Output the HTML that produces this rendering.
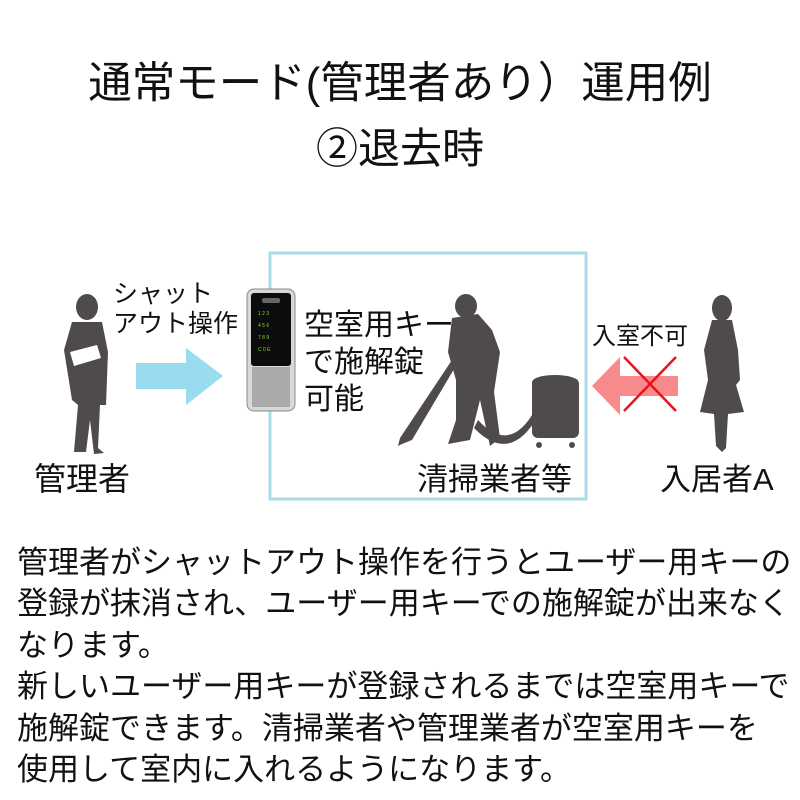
<!DOCTYPE html>
<html><head><meta charset="utf-8"><style>
body{margin:0;background:#fff;}
#c{position:relative;width:800px;height:800px;overflow:hidden;font-family:"Liberation Sans","Noto Sans CJK JP",sans-serif;color:#111;}
.t{position:absolute;white-space:nowrap;}
</style></head><body><div id="c">
<div class="t" style="left:0;width:800px;text-align:center;top:59px;font-size:43.5px;line-height:50px;">通常モード(管理者あり）運用例</div>
<div class="t" style="left:0;width:800px;text-align:center;top:124px;font-size:42px;line-height:50px;">②退去時</div>

<svg style="position:absolute;left:0;top:0" width="800" height="520">
<rect x="270" y="253" width="316" height="246" fill="none" stroke="#a8dcec" stroke-width="3"/>
<polygon points="136,363 186,363 186,348 223,376 186,405 186,389 136,389" fill="#99dcef"/>
<polygon points="678,376 620,376 620,357 592,386 620,415 620,396 678,396" fill="#f98a8c"/>
<line x1="624" y1="357" x2="676" y2="411" stroke="#e8141c" stroke-width="2.5"/>
<line x1="676" y1="357" x2="624" y2="411" stroke="#e8141c" stroke-width="2.5"/>
<g fill="#4f4b4c">
<ellipse cx="87" cy="307" rx="11" ry="13"/>
<path d="M72 322 L102 322 L108 352 L106 405 L100 405 L98 448 L104 453 L94 454 L90 420 L86 452 L74 452 L78 405 L72 400 L64 350 Z"/>
</g>
<polygon points="70,352 97,345 101,358 74,366" fill="#fff"/>
<rect x="247" y="289" width="48" height="122" rx="7" fill="#d8d8d8" stroke="#888" stroke-width="1"/>
<rect x="251" y="293" width="40" height="73" rx="3" fill="#0c0c0c"/>
<rect x="262" y="298" width="18" height="5" rx="2" fill="#666"/>
<rect x="252" y="367" width="38" height="40" fill="#aaa"/>
<g fill="#7fdc3a" font-size="5" font-family="Liberation Sans"><text x="258" y="315">1 2 3</text><text x="258" y="327">4 5 6</text><text x="258" y="339">7 8 9</text><text x="258" y="351">C 0 E</text></g>
<g fill="#4f4b4c">
<ellipse cx="466" cy="306" rx="11" ry="12"/>
<path d="M452 318 L478 314 L492 330 L500 352 L494 392 L500 438 L490 446 L480 400 L470 440 L448 444 L456 420 L456 380 L448 352 Z"/>
<path d="M452 360 L457 364 L412 440 L402 444 L398 446 L400 438 Z"/>
<rect x="532" y="378" width="47" height="60" rx="6"/>
<ellipse cx="555" cy="382" rx="23" ry="7"/>
<path d="M478 420 Q510 455 535 410 L538 416 Q510 465 474 428 Z"/>
<circle cx="539" cy="445" r="3"/><circle cx="572" cy="445" r="3"/>
</g>
<g fill="#4f4b4c">
<ellipse cx="722" cy="308" rx="10" ry="13"/>
<path d="M712 320 L732 320 L738 350 L740 380 L736 385 L744 412 L728 414 L726 448 L722 452 L716 446 L714 414 L700 412 L708 380 L704 350 Z"/>
</g>
</svg>

<div class="t" style="left:113px;top:279px;font-size:25px;line-height:30px;">シャット<br>アウト操作</div>
<div class="t" style="left:304px;top:307px;font-size:30px;line-height:37px;">空室用キー<br>で施解錠<br>可能</div>
<div class="t" style="left:592px;top:316px;font-size:24px;">入室不可</div>
<div class="t" style="left:34px;top:454px;font-size:32px;">管理者</div>
<div class="t" style="left:417px;top:454px;font-size:31px;">清掃業者等</div>
<div class="t" style="left:660px;top:454px;font-size:31px;">入居者A</div>

<div class="t" style="left:17px;top:542px;font-size:31px;line-height:41.4px;">管理者がシャットアウト操作を行うとユーザー用キーの<br>登録が抹消され、ユーザー用キーでの施解錠が出来なく<br>なります。<br>新しいユーザー用キーが登録されるまでは空室用キーで<br>施解錠できます。清掃業者や管理業者が空室用キーを<br>使用して室内に入れるようになります。</div>
</div></body></html>
